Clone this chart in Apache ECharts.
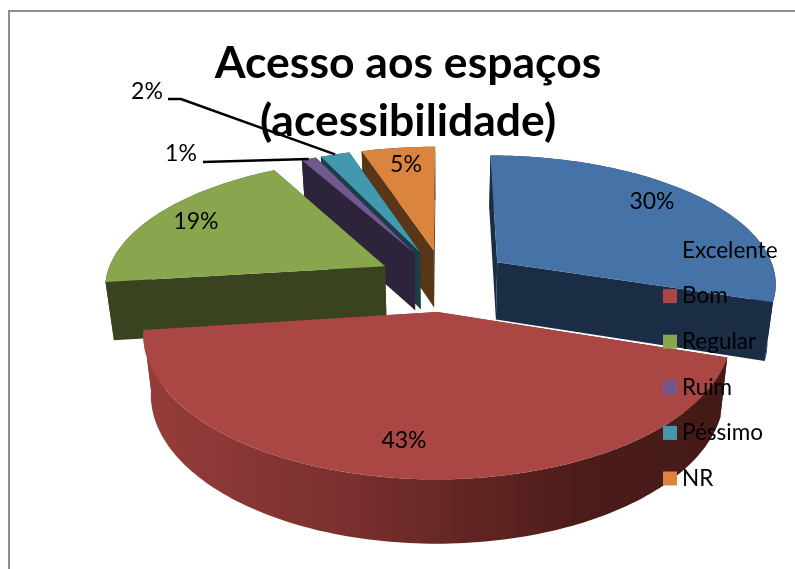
<!DOCTYPE html>
<html>
<head>
    <meta charset="utf-8">
    <title>Acesso aos espaços</title>
    <script src="https://cdn.jsdelivr.net/npm/echarts@6/dist/echarts.min.js"></script>
    <style>
        html, body { margin: 0; padding: 0; background: #fff; }
    </style>
</head>
<body>
<div id="main" style="width: 795px;height:569px;"></div>
<script type="text/javascript">
    // dados
    var categories = ['Excelente', 'Bom', 'Regular', 'Ruim', 'Péssimo', 'NR'];
    var values = [30, 43, 19, 1, 2, 5];
    var titleText = 'Acesso aos espaços\n(acessibilidade)';

    // cores: topo e parede de cada fatia
    var topColors = ['#4572A7', '#AA4643', '#89A54E', '#71588F', '#4198AF', '#DB843D'];
    var wallColors = ['#1B2D45', '#6E2B29', '#3A431F', '#2D233A', '#1A3D47', '#5A3618'];
    var fontName = 'Lato, "Open Sans", sans-serif';

    // camera do pie 3D (o ECharts nao tem pie 3D, entao projeto na mao)
    var cx = 444, cy = 280, radX = 280, radY = 129, perspX = 0.15, perspY = 0.16, explode = 0.24;
    var wallH = 58, wallPersp = 0.08, baseShrink = 0.975;

    // posicao dos rotulos de % e inicio das linhas guia
    var labelPos = [[652, 202], [404, 441], [196, 222], [181, 154], [147, 92], [406, 165]];
    var leaderStart = { 3: [[203, 162]], 4: [[168, 99], [181, 99]] };

    var total = 0;
    for (var t = 0; t < values.length; t++) total += values[t];

    function project(theta, r, mid) {
        var X = r * Math.sin(theta) + explode * Math.sin(mid);
        var Z = -r * Math.cos(theta) - explode * Math.cos(mid);
        return { x: cx + radX * X / (1 - perspX * Z), y: cy + radY * Z / (1 - perspY * Z), z: Z };
    }

    function toBase(p) {
        return [cx + (p.x - cx) * baseShrink, p.y + wallH / (1 - wallPersp * p.z)];
    }

    function quadFace(a, b, color) {
        var ba = toBase(a), bb = toBase(b);
        return {
            depth: (a.z + b.z) / 2,
            el: {
                type: 'polygon',
                shape: { points: [[a.x, a.y], [b.x, b.y], bb, ba] },
                style: { fill: color }
            }
        };
    }

    function makeRender(idx) {
        return function (params, api) {
            var before = 0;
            for (var i = 0; i < idx; i++) before += values[i];
            var val = api.value(0);
            var a0 = before / total * Math.PI * 2;
            var a1 = (before + val) / total * Math.PI * 2;
            var mid = (a0 + a1) / 2;
            var apex = project(0, 0, mid);
            var steps = Math.max(4, Math.round(val * 3));
            var rim = [];
            for (var s = 0; s <= steps; s++) {
                rim.push(project(a0 + (a1 - a0) * s / steps, 1, mid));
            }
            var wallFill = wallColors[idx];
            if (idx == 1) {
                // parede da frente do vermelho escurece para a direita
                wallFill = {
                    type: 'linear', x: 0, y: 0, x2: 1, y2: 0,
                    colorStops: [
                        { offset: 0, color: '#963D3B' },
                        { offset: 0.35, color: '#7A302E' },
                        { offset: 0.75, color: '#4C1C1A' },
                        { offset: 1, color: '#431A17' }
                    ]
                };
            }

            var faces = [
                quadFace(apex, rim[0], wallColors[idx]),
                quadFace(apex, rim[steps], wallColors[idx])
            ];
            // parede externa
            var outer = [];
            for (var m = 0; m <= steps; m++) outer.push([rim[m].x, rim[m].y]);
            for (var n = steps; n >= 0; n--) outer.push(toBase(rim[n]));
            faces.push({
                depth: project(mid, 1, mid).z,
                el: { type: 'polygon', shape: { points: outer }, style: { fill: wallFill } }
            });
            faces.sort(function (p, q) { return p.depth - q.depth; });

            var children = [];
            for (var f = 0; f < faces.length; f++) children.push(faces[f].el);

            // topo da fatia
            var topPts = [[apex.x, apex.y]];
            for (var k = 0; k <= steps; k++) topPts.push([rim[k].x, rim[k].y]);
            children.push({
                type: 'polygon',
                shape: { points: topPts },
                style: { fill: topColors[idx] }
            });

            if (leaderStart[idx]) {
                var end = project(mid, 1, mid);
                children.push({
                    type: 'polyline',
                    shape: { points: leaderStart[idx].concat([[end.x, end.y]]) },
                    style: { stroke: '#000', lineWidth: 2.5, fill: null }
                });
            }
            children.push({
                type: 'text',
                style: {
                    x: labelPos[idx][0], y: labelPos[idx][1],
                    text: val + '%',
                    fill: '#000',
                    font: '23px ' + fontName,
                    align: 'center', verticalAlign: 'middle'
                }
            });
            return { type: 'group', children: children };
        };
    }

    // ordem de pintura: de tras para a frente
    var drawOrder = [0, 5, 4, 3, 2, 1];
    var seriesData = [];
    for (var j = 0; j < drawOrder.length; j++) {
        var c = drawOrder[j];
        seriesData.push({
            name: categories[c],
            type: 'custom',
            coordinateSystem: 'none',
            renderItem: makeRender(c),
            itemStyle: { color: topColors[c] },
            data: [[values[c]]],
            z: 2 + j,
            silent: true,
            animation: false
        });
    }

    var myChart = echarts.init(document.getElementById('main'), null, { renderer: 'canvas' });
    var option = {
        backgroundColor: '#fff',
        animation: false,
        title: {
            text: titleText,
            left: 403,
            top: 30,
            z: 20,
            textAlign: 'center',
            textStyle: {
                fontFamily: fontName,
                fontWeight: 'bold',
                fontSize: 44.5,
                lineHeight: 58,
                color: '#000'
            }
        },
        legend: {
            data: categories,
            orient: 'vertical',
            left: 663,
            top: 239,
            z: 20,
            icon: 'rect',
            itemWidth: 14,
            itemHeight: 14,
            itemGap: 22.6,
            padding: 0,
            selectedMode: false,
            textStyle: { fontFamily: fontName, fontSize: 22.5, color: '#000' }
        },
        graphic: [{
            type: 'rect',
            shape: { x: 9, y: 11, width: 800, height: 570 },
            style: { fill: null, stroke: '#8E8E8E', lineWidth: 2 },
            silent: true,
            z: 0
        }],
        series: seriesData
    };
    myChart.setOption(option);
</script>
</body>
</html>
